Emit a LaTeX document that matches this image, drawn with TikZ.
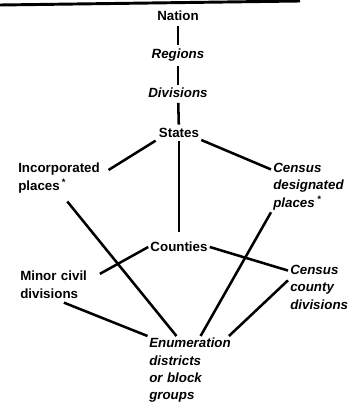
\documentclass[tikz,border=0pt]{standalone}
\usepackage{fontspec}
\setmainfont{Liberation Sans}
\begin{document}
\begin{tikzpicture}[x=0.75pt,y=-0.75pt,
  lvl/.style={font=\bfseries\fontsize{10}{13}\selectfont, inner sep=1.5pt},
  ilvl/.style={lvl, font=\bfseries\itshape\fontsize{10}{13}\selectfont},
  blk/.style={align=left, anchor=north west, inner sep=1.5pt},
  link/.style={line width=1.9pt}]
  \useasboundingbox (0,0) rectangle (350,407);
  % rule at the top
  \draw[line width=2.2pt] (0,5) -- (300,1);
  % upper chain
  \node[lvl] (nation) at (178,16) {Nation};
  \node[ilvl] (regions) at (178,55) {Regions};
  \node[ilvl] (divisions) at (178,93) {Divisions};
  \node[lvl] (states) at (179,133) {States};
  % second row
  \node[lvl, blk, text width=66pt] (incorp) at (16,161) {Incorporated\\places\,\textsuperscript{*}};
  \node[ilvl, blk, text width=52pt] (cdp) at (271,161) {Census\\designated\\places\,\textsuperscript{*}};
  \node[lvl] (counties) at (179,247) {Counties};
  % third row
  \node[lvl, blk, text width=58pt] (mcd) at (18,269) {Minor civil\\divisions};
  \node[ilvl, blk, text width=46pt] (ccd) at (288,263) {Census\\county\\divisions};
  % bottom
  \node[ilvl, blk, text width=66pt] (enum) at (147,336) {Enumeration\\districts\\or block\\groups};
  % connectors
  \draw[link, shorten <=2pt, shorten >=1pt] (nation) -- (regions);
  \draw[link, shorten <=2pt, shorten >=1pt] (regions) -- (divisions);
  \draw[link, shorten <=2pt, shorten >=1pt] (divisions) -- (states);
  \draw[link, shorten <=1pt] (states.south west) -- (incorp.10);
  \draw[link] (states.south east) -- (cdp.155);
  \draw[link, shorten <=1pt, shorten >=6pt] (states) -- (counties);
  \draw[link, shorten <=6pt] (incorp.south) -- (enum.116);
  \draw[link] (cdp.south west) -- (enum.78);
  \draw[link] (counties.west) -- (mcd.15);
  \draw[link] (counties.east) -- (ccd.153);
  \draw[link] (ccd.168) -- (enum.44);
  \draw[link, shorten <=4pt] (mcd.south) -- (enum.143);
\end{tikzpicture}
\end{document}
